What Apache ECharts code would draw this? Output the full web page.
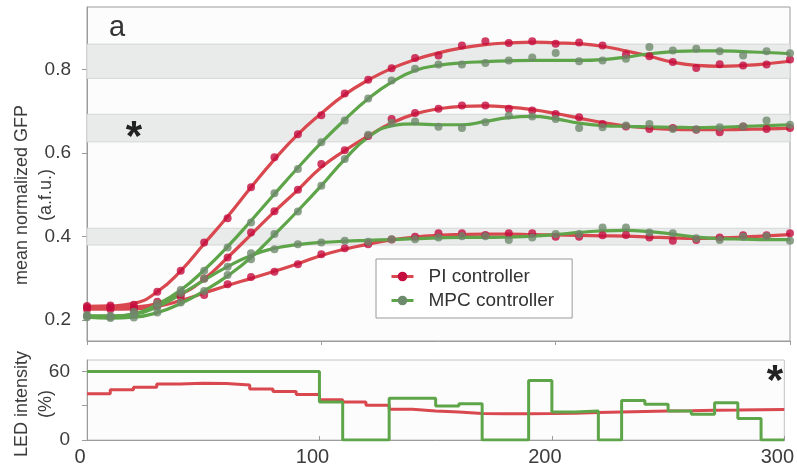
<!DOCTYPE html>
<html>
<head>
<meta charset="utf-8">
<script src="https://cdn.jsdelivr.net/npm/echarts@6/dist/echarts.min.js"></script>
<style>
  html, body { margin: 0; padding: 0; background: #ffffff; }
  #chart { width: 797px; height: 468px; }
</style>
</head>
<body>
<div id="chart"></div>
<script>
// Sampling times (min)
const times = [0, 10, 20, 30, 40, 50, 60, 70, 80, 90, 100, 110, 120, 130, 140, 150,
  160, 170, 180, 190, 200, 210, 220, 230, 240, 250, 260, 270, 280, 290, 300];

// Measured mean normalized GFP, PI controller (targets 0.82 / 0.66 / 0.40)
const piHighDots = [0.234, 0.235, 0.237, 0.268, 0.318, 0.386, 0.444, 0.518, 0.590, 0.645, 0.691, 0.743, 0.776, 0.803, 0.828, 0.834,
  0.858, 0.868, 0.864, 0.868, 0.862, 0.865, 0.858, 0.836, 0.832, 0.818, 0.804, 0.813, 0.810, 0.812, 0.824];
const piMidDots = [0.230, 0.231, 0.229, 0.244, 0.262, 0.300, 0.350, 0.410, 0.461, 0.512, 0.574, 0.607, 0.641, 0.682, 0.696, 0.706,
  0.714, 0.714, 0.706, 0.702, 0.694, 0.686, 0.670, 0.664, 0.658, 0.660, 0.656, 0.650, 0.664, 0.658, 0.660];
const piLowDots = [0.226, 0.226, 0.224, 0.234, 0.256, 0.260, 0.286, 0.303, 0.316, 0.334, 0.358, 0.372, 0.382, 0.393, 0.400, 0.408,
  0.408, 0.404, 0.408, 0.408, 0.400, 0.400, 0.403, 0.404, 0.398, 0.390, 0.392, 0.398, 0.403, 0.403, 0.408];

// Measured mean normalized GFP, MPC controller
const mpcHighDots = [0.210, 0.208, 0.220, 0.240, 0.272, 0.318, 0.374, 0.434, 0.504, 0.562, 0.626, 0.678, 0.731, 0.774, 0.802, 0.812,
  0.812, 0.816, 0.822, 0.829, 0.840, 0.820, 0.822, 0.826, 0.854, 0.846, 0.850, 0.844, 0.834, 0.844, 0.839];
const mpcMidDots = [0.207, 0.205, 0.206, 0.218, 0.242, 0.270, 0.308, 0.346, 0.406, 0.460, 0.522, 0.586, 0.644, 0.672, 0.676, 0.663,
  0.660, 0.674, 0.690, 0.688, 0.682, 0.660, 0.662, 0.666, 0.670, 0.658, 0.657, 0.662, 0.664, 0.678, 0.668];
const mpcLowDots = [0.212, 0.210, 0.214, 0.232, 0.265, 0.299, 0.328, 0.360, 0.370, 0.382, 0.386, 0.390, 0.388, 0.394, 0.394, 0.398,
  0.401, 0.401, 0.392, 0.398, 0.406, 0.406, 0.422, 0.422, 0.410, 0.408, 0.396, 0.392, 0.400, 0.401, 0.390];

// Smoothed fits of the measurements
const piHighFit = [0.233, 0.234, 0.240, 0.268, 0.318, 0.383, 0.448, 0.518, 0.585, 0.645, 0.695, 0.740, 0.775, 0.803, 0.824, 0.840,
  0.852, 0.860, 0.864, 0.866, 0.864, 0.862, 0.856, 0.845, 0.832, 0.818, 0.810, 0.808, 0.810, 0.814, 0.820];
const piMidFit = [0.228, 0.229, 0.231, 0.240, 0.262, 0.298, 0.350, 0.405, 0.460, 0.512, 0.566, 0.606, 0.641, 0.672, 0.694, 0.706,
  0.712, 0.713, 0.710, 0.704, 0.695, 0.684, 0.673, 0.665, 0.660, 0.657, 0.656, 0.656, 0.657, 0.658, 0.660];
const piLowFit = [0.226, 0.226, 0.227, 0.233, 0.247, 0.265, 0.283, 0.300, 0.317, 0.335, 0.355, 0.370, 0.382, 0.392, 0.399, 0.403,
  0.405, 0.406, 0.406, 0.405, 0.404, 0.403, 0.402, 0.401, 0.399, 0.397, 0.396, 0.397, 0.399, 0.402, 0.405];
const mpcHighFit = [0.209, 0.209, 0.215, 0.238, 0.272, 0.320, 0.376, 0.438, 0.502, 0.565, 0.625, 0.680, 0.730, 0.770, 0.798, 0.810,
  0.816, 0.819, 0.821, 0.822, 0.822, 0.822, 0.824, 0.830, 0.838, 0.843, 0.845, 0.845, 0.843, 0.841, 0.838];
const mpcMidFit = [0.207, 0.205, 0.207, 0.218, 0.240, 0.270, 0.306, 0.350, 0.405, 0.462, 0.522, 0.585, 0.638, 0.665, 0.670, 0.668,
  0.668, 0.676, 0.685, 0.688, 0.682, 0.672, 0.666, 0.664, 0.663, 0.662, 0.661, 0.662, 0.664, 0.666, 0.668];
const mpcLowFit = [0.210, 0.210, 0.214, 0.232, 0.262, 0.296, 0.328, 0.355, 0.372, 0.381, 0.386, 0.389, 0.391, 0.393, 0.395, 0.397,
  0.398, 0.398, 0.399, 0.401, 0.405, 0.410, 0.414, 0.415, 0.412, 0.406, 0.399, 0.395, 0.394, 0.393, 0.393];

// Reference bands (target +/- 5 %)
const bandLow = [0.779, 0.627, 0.380];
const bandHigh = [0.861, 0.693, 0.420];

// LED intensity (%) applied during each 10-min interval
const ledTimes = [0, 10, 20, 30, 40, 50, 60, 70, 80, 90, 100, 110, 120, 130, 140,
  150, 160, 170, 180, 190, 200, 210, 220, 230, 240, 250, 260, 270, 280, 290];
const piLed = [40.4, 43.9, 46.2, 49.1, 49.6, 49.4, 48.2, 44.7, 42.4, 39.8, 35.2, 33.2, 30.3, 26.8, 25.4,
  24.5, 23.2, 23.0, 23.0, 23.2, 23.5, 24.0, 24.5, 25.0, 25.3, 25.6, 26.0, 26.2, 26.5, 26.6];
const mpcLed = [60, 60, 60, 60, 60, 60, 60, 60, 60, 60, 33.2, 0, 0, 36.6, 36.6,
  29.7, 31.7, 0, 0, 52, 24.5, 25.4, 0, 34.6, 31.2, 25.4, 22.5, 32.6, 18.8, 0];

const gfpTicks = [0.2, 0.4, 0.6, 0.8];
const ledTickLabels = [0, 60];
const ledTicks = [0, 30, 60];

const PI_LINE = '#d9474f';
const PI_DOT = '#c40d3e';
const MPC_LINE = '#5ea54a';
const MPC_DOT = '#6e8a6c';
const FONT = '"Liberation Sans", Arial, sans-serif';

const pairs = (xs, ys) => xs.map((x, i) => [x, ys[i]]);
const stepData = (ys) => {
  const d = pairs(ledTimes, ys);
  d.push([300, ys[ys.length - 1]]);
  return d;
};

function fitSeries(name, data, lineColor, dotColor) {
  return {
    name: name, type: 'line', xAxisIndex: 0, yAxisIndex: 0,
    data: pairs(times, data), smooth: true, showSymbol: false,
    symbol: 'circle', symbolSize: 8,
    lineStyle: { color: lineColor, width: 3.2 },
    itemStyle: { color: dotColor },
    z: 3, silent: true
  };
}
function dotSeries(name, data, dotColor) {
  return {
    name: name, type: 'scatter', xAxisIndex: 0, yAxisIndex: 0,
    data: pairs(times, data), symbol: 'circle', symbolSize: 8,
    itemStyle: { color: dotColor }, z: 4, silent: true
  };
}

const chart = echarts.init(document.getElementById('chart'), null, { renderer: 'canvas' });

const axisGray = '#9c9c9c';
const labelColor = '#3c3c3c';

chart.setOption({
  animation: false,
  backgroundColor: '#ffffff',
  textStyle: { fontFamily: FONT },
  grid: [
    { left: 87, top: 7, width: 703, height: 334, show: true, backgroundColor: '#fcfcfc',
      borderColor: axisGray, borderWidth: 1 },
    { left: 87, top: 360, width: 703, height: 80, show: true, backgroundColor: '#fcfcfc',
      borderColor: '#c4c4c4', borderWidth: 1 }
  ],
  xAxis: [
    { type: 'value', gridIndex: 0, min: 0, max: 300, interval: 100,
      axisLine: { show: true, lineStyle: { color: axisGray, width: 1 } },
      axisTick: { show: true, length: 4, lineStyle: { color: axisGray } },
      axisLabel: { show: false }, splitLine: { show: false } },
    { type: 'value', gridIndex: 1, min: 0, max: 300, interval: 100,
      axisLine: { show: true, lineStyle: { color: axisGray, width: 1 } },
      axisTick: { show: true, inside: true, length: 4, lineStyle: { color: axisGray } },
      axisLabel: { show: true, color: labelColor, fontSize: 20, fontFamily: FONT, margin: 7,
        padding: [0, 14, 0, 0] },
      splitLine: { show: false } }
  ],
  yAxis: [
    { type: 'value', gridIndex: 0, min: 0.15, max: 0.95,
      axisLine: { show: true, lineStyle: { color: axisGray, width: 1 } },
      axisTick: { show: true, length: 5, customValues: gfpTicks, lineStyle: { color: axisGray } },
      axisLabel: { show: true, customValues: gfpTicks, color: labelColor, fontSize: 19, fontFamily: FONT,
        margin: 16, formatter: (v) => v.toFixed(1) },
      splitLine: { show: false } },
    { type: 'value', gridIndex: 1, min: 0, max: 70,
      axisLine: { show: true, lineStyle: { color: axisGray, width: 1 } },
      axisTick: { show: true, length: 5, customValues: ledTicks, lineStyle: { color: axisGray } },
      axisLabel: { show: true, customValues: ledTickLabels, color: labelColor, fontSize: 19, fontFamily: FONT,
        margin: 17 },
      splitLine: { show: false } }
  ],
  legend: {
    orient: 'vertical', left: 376, top: 259,
    padding: [8, 18, 8, 14], itemGap: 5, itemWidth: 22, itemHeight: 12,
    backgroundColor: '#ffffff', borderColor: '#9a9a9a', borderWidth: 1, borderRadius: 0,
    textStyle: { fontSize: 19, color: '#333333', fontFamily: FONT, padding: [0, 0, 0, 10] },
    data: [
      { name: 'PI controller', itemStyle: { color: PI_DOT }, lineStyle: { color: PI_LINE, width: 3 } },
      { name: 'MPC controller', itemStyle: { color: MPC_DOT }, lineStyle: { color: MPC_LINE, width: 3 } }
    ],
    selectedMode: false
  },
  graphic: [
    { type: 'text', left: 109, top: 13, z: 100, style: { text: 'a', font: '29px ' + FONT, fill: '#333333' } },
    { type: 'text', x: 134, y: 138, z: 100, style: { text: '*', font: 'bold 42px ' + FONT, fill: '#222222',
      textAlign: 'center', textVerticalAlign: 'middle' } },
    { type: 'text', x: 775, y: 382, z: 100, style: { text: '*', font: 'bold 42px ' + FONT, fill: '#222222',
      textAlign: 'center', textVerticalAlign: 'middle' } },
    { type: 'text', x: 34, y: 195, rotation: Math.PI / 2, z: 100,
      style: { text: 'mean normalized GFP\n(a.f.u.)', font: '18px ' + FONT, fill: labelColor,
        textAlign: 'center', textVerticalAlign: 'middle', lineHeight: 24 } },
    { type: 'text', x: 34, y: 404, rotation: Math.PI / 2, z: 100,
      style: { text: 'LED intensity\n(%)', font: '18px ' + FONT, fill: labelColor,
        textAlign: 'center', textVerticalAlign: 'middle', lineHeight: 24 } }
  ],
  series: [
    // reference bands
    { type: 'line', xAxisIndex: 0, yAxisIndex: 0, data: [], silent: true,
      markArea: { silent: true,
        itemStyle: { color: '#e9eaea', borderColor: '#d6d7d7', borderWidth: 1 },
        data: bandLow.map((lo, i) => [{ yAxis: lo }, { yAxis: bandHigh[i] }]) },
      z: 1 },
    fitSeries('PI controller', piHighFit, PI_LINE, PI_DOT),
    fitSeries('PI controller', piMidFit, PI_LINE, PI_DOT),
    fitSeries('PI controller', piLowFit, PI_LINE, PI_DOT),
    fitSeries('MPC controller', mpcHighFit, MPC_LINE, MPC_DOT),
    fitSeries('MPC controller', mpcMidFit, MPC_LINE, MPC_DOT),
    fitSeries('MPC controller', mpcLowFit, MPC_LINE, MPC_DOT),
    dotSeries('PI controller', piHighDots, PI_DOT),
    dotSeries('PI controller', piMidDots, PI_DOT),
    dotSeries('PI controller', piLowDots, PI_DOT),
    dotSeries('MPC controller', mpcHighDots, MPC_DOT),
    dotSeries('MPC controller', mpcMidDots, MPC_DOT),
    dotSeries('MPC controller', mpcLowDots, MPC_DOT),
    // LED input profiles
    { name: 'PI LED', type: 'line', xAxisIndex: 1, yAxisIndex: 1, step: 'end',
      data: stepData(piLed), showSymbol: false, lineStyle: { color: PI_LINE, width: 3 }, z: 3, silent: true },
    { name: 'MPC LED', type: 'line', xAxisIndex: 1, yAxisIndex: 1, step: 'end',
      data: stepData(mpcLed), showSymbol: false, lineStyle: { color: MPC_LINE, width: 3 }, z: 4, silent: true }
  ]
});
</script>
</body>
</html>
